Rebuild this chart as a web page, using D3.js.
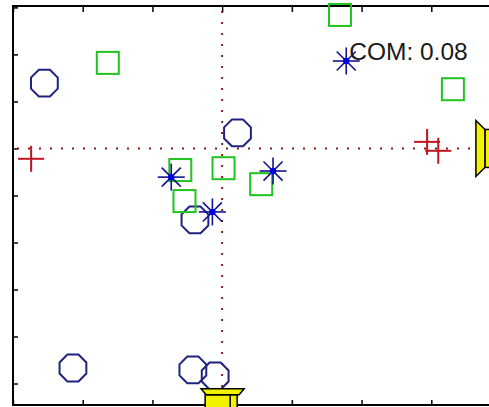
<!DOCTYPE html>
<html>
<head>
<meta charset="utf-8">
<script src="https://cdn.jsdelivr.net/npm/d3@7"></script>
<style>
  html, body { margin: 0; padding: 0; background: #fff; overflow: hidden; }
  svg { display: block; }
</style>
</head>
<body>
<svg id="chart" width="489" height="407"></svg>
<script>
// Positions in axis units
const circlePts = [[-2.55, 1.39], [0.22, 0.33], [-0.39, -1.52], [-2.14, -4.67], [-0.42, -4.71], [-0.10, -4.84]];
const squarePts = [[-1.64, 1.82], [1.69, 2.84], [3.31, 1.26], [-0.60, -0.46], [0.02, -0.42], [0.56, -0.76], [-0.54, -1.12]];
const starPts   = [[1.78, 1.86], [-0.73, -0.61], [0.73, -0.48], [-0.14, -1.35]];
const plusPts   = [[-2.74, -0.22], [2.94, 0.14], [3.10, -0.05]];
const speakerPts = [{x: 0, y: -5.11, dir: "up"}, {x: 3.64, y: 0, dir: "left"}];
const centre = [0, 0];
const comLabel = "COM: 0.08";
const comPos = [1.78, 1.86];
const xTicks = [-3, -2, -1, 0, 1, 2, 3, 4];
const yTicks = [3, 2, 1, 0, -1, -2, -3, -4, -5];

const svg = d3.select("#chart");
const x = d3.scaleLinear().domain([-3, 4]).range([13, 501]);
const y = d3.scaleLinear().domain([-5.457, 3.03]).range([405, 6]);

// tick marks pointing into the box
svg.append("g").attr("transform", `translate(${x(-3)},0)`)
  .call(d3.axisLeft(y).tickValues(yTicks).tickSizeInner(-5).tickSizeOuter(0).tickFormat(""))
  .call(g => g.select(".domain").remove())
  .call(g => g.selectAll("line").attr("stroke", "#000").attr("stroke-width", 1.5));
svg.append("g").attr("transform", `translate(0,${y.range()[1]})`)
  .call(d3.axisTop(x).tickValues(xTicks).tickSizeInner(-6).tickSizeOuter(0).tickFormat(""))
  .call(g => g.select(".domain").remove())
  .call(g => g.selectAll("line").attr("stroke", "#000").attr("stroke-width", 1.5));
svg.append("g").attr("transform", `translate(0,${y.range()[0]})`)
  .call(d3.axisBottom(x).tickValues(xTicks).tickSizeInner(-5).tickSizeOuter(0).tickFormat(""))
  .call(g => g.select(".domain").remove())
  .call(g => g.selectAll("line").attr("stroke", "#000").attr("stroke-width", 1.5));

// box
svg.append("rect")
  .attr("x", x(-3)).attr("y", y.range()[1])
  .attr("width", x(4.3) - x(-3)).attr("height", y.range()[0] - y.range()[1])
  .attr("fill", "none").attr("stroke", "#000").attr("stroke-width", 2);

// dotted crosshair through the centre
const dot = { stroke: "#8a1c1c", "stroke-width": 2, "stroke-dasharray": "2,9" };
const hLine = svg.append("line").attr("x1", x(-3) + 4).attr("x2", 489)
  .attr("y1", y(centre[1])).attr("y2", y(centre[1]));
const vLine = svg.append("line").attr("x1", x(centre[0])).attr("x2", x(centre[0]))
  .attr("y1", y.range()[1] + 5).attr("y2", y.range()[0]);
[hLine, vLine].forEach(l => Object.entries(dot).forEach(([k, v]) => l.attr(k, v)));

// circles (octagon outline)
const R = 14.5;
const octagon = d3.range(8).map(i => {
  const a = Math.PI / 8 + i * Math.PI / 4;
  return [R * Math.cos(a), R * Math.sin(a)];
});
svg.append("g").selectAll("path").data(circlePts).join("path")
  .attr("transform", d => `translate(${x(d[0])},${y(d[1])})`)
  .attr("d", d3.line()(octagon) + "Z")
  .attr("fill", "none").attr("stroke", "#1f237f").attr("stroke-width", 2);

// squares
const S = 22;
svg.append("g").selectAll("rect").data(squarePts).join("rect")
  .attr("x", d => x(d[0]) - S / 2).attr("y", d => y(d[1]) - S / 2)
  .attr("width", S).attr("height", S)
  .attr("fill", "none").attr("stroke", "#1fc41f").attr("stroke-width", 2);

// asterisks
const A = 13.5;
const stars = svg.append("g").selectAll("g").data(starPts).join("g")
  .attr("transform", d => `translate(${x(d[0])},${y(d[1])})`);
[0, 45, 90, 135].forEach(deg => {
  const a = deg * Math.PI / 180;
  stars.append("line")
    .attr("x1", -A * Math.cos(a)).attr("y1", -A * Math.sin(a))
    .attr("x2", A * Math.cos(a)).attr("y2", A * Math.sin(a))
    .attr("stroke", "#14148f").attr("stroke-width", 1.6);
});
stars.append("circle").attr("r", 3.2).attr("fill", "#0000e0");

// plus markers
const P = 13;
const pluses = svg.append("g").selectAll("g").data(plusPts).join("g")
  .attr("transform", d => `translate(${x(d[0])},${y(d[1])})`);
pluses.append("line").attr("x1", -P).attr("x2", P).attr("y1", 0).attr("y2", 0);
pluses.append("line").attr("x1", 0).attr("x2", 0).attr("y1", -P).attr("y2", P);
pluses.selectAll("line").attr("stroke", "#c0141e").attr("stroke-width", 2);

// loudspeakers
speakerPts.forEach(s => {
  const g = svg.append("g").attr("transform", `translate(${x(s.x)},${y(s.y)})`);
  if (s.dir === "up") {
    g.append("rect").attr("x", -17).attr("y", 6).attr("width", 32).attr("height", 20)
      .attr("fill", "#f2f200").attr("stroke", "#000").attr("stroke-width", 1.5);
    g.append("line").attr("x1", 8).attr("x2", 8).attr("y1", 6).attr("y2", 26)
      .attr("stroke", "#000").attr("stroke-width", 1.5);
    g.append("path").attr("d", "M-21,0 L22,0 L17,6 L-16,6 Z")
      .attr("fill", "#f2f200").attr("stroke", "#000").attr("stroke-width", 1.5);
  } else {
    g.append("rect").attr("x", 9).attr("y", -19).attr("width", 26).attr("height", 38)
      .attr("fill", "#f2f200").attr("stroke", "#000").attr("stroke-width", 1.5);
    g.append("path").attr("d", "M0,-28 L9,-19 L9,19 L0,28 Z")
      .attr("fill", "#f2f200").attr("stroke", "#000").attr("stroke-width", 1.5);
  }
});

// centre-of-mass label
svg.append("text")
  .attr("x", x(comPos[0]) + 3).attr("y", y(comPos[1]) - 7)
  .attr("dominant-baseline", "middle")
  .attr("font-family", "Liberation Sans, Arial, sans-serif")
  .attr("font-size", 24.5).attr("fill", "#1a1a1a")
  .text(comLabel);
</script>
</body>
</html>
